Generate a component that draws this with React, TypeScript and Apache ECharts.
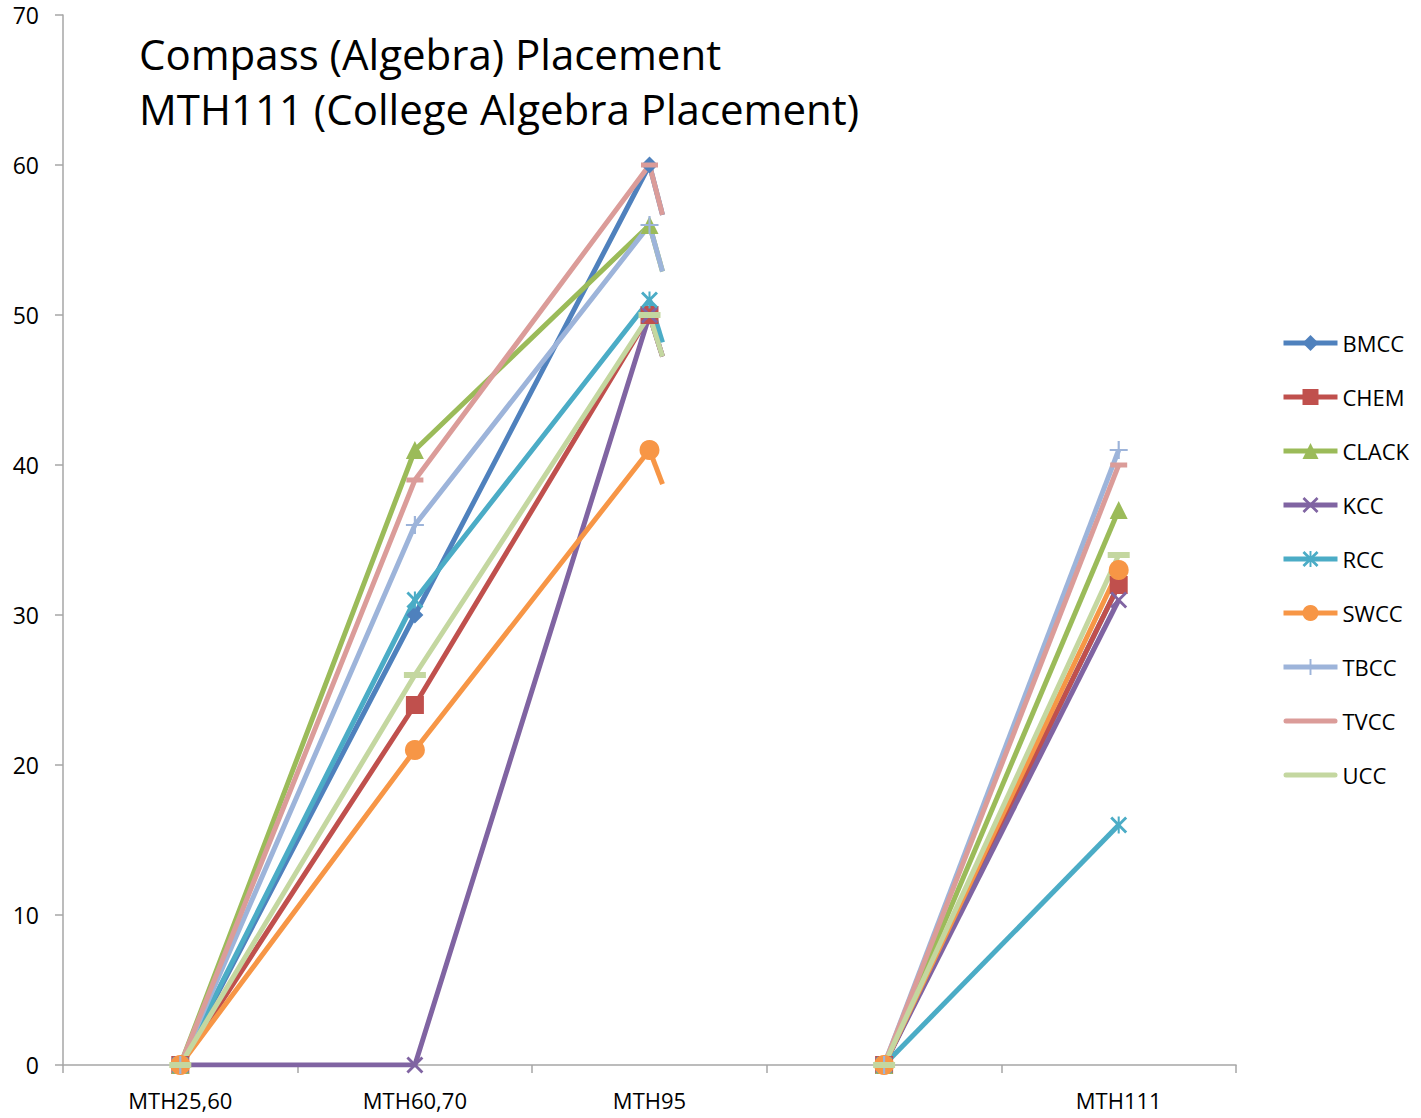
import React, { useEffect, useRef } from "react";
import * as echarts from "echarts";

const categories = ["MTH25,60", "MTH60,70", "MTH95", "", "MTH111"];
const colleges = ["BMCC", "CHEM", "CLACK", "KCC", "RCC", "SWCC", "TBCC", "TVCC", "UCC"];
// values at MTH25,60 / MTH60,70 / MTH95
const bmccFirst = [0, 30, 60];
const chemFirst = [0, 24, 50];
const clackFirst = [0, 41, 56];
const kccFirst = [0, 0, 50];
const rccFirst = [0, 31, 51];
const swccFirst = [0, 21, 41];
const tbccFirst = [0, 36, 56];
const tvccFirst = [0, 39, 60];
const uccFirst = [0, 26, 50];
// values at blank category / MTH111
const bmccSecond = [0, 32];
const chemSecond = [0, 32];
const clackSecond = [0, 37];
const kccSecond = [0, 31];
const rccSecond = [0, 16];
const swccSecond = [0, 33];
const tbccSecond = [0, 41];
const tvccSecond = [0, 40];
const uccSecond = [0, 34];
const yMin = 0;
const yMax = 70;
const yInterval = 10;

const firstSegments = [bmccFirst, chemFirst, clackFirst, kccFirst, rccFirst, swccFirst, tbccFirst, tvccFirst, uccFirst];
const secondSegments = [bmccSecond, chemSecond, clackSecond, kccSecond, rccSecond, swccSecond, tbccSecond, tvccSecond, uccSecond];

const colors = ["#4F81BD", "#C0504D", "#9BBB59", "#8064A2", "#4BACC6", "#F79646", "#9DB4DA", "#DB9C99", "#C4D7A0"];

const X_PATH = "path://M0,1.2 L1.2,0 L5,3.8 L8.8,0 L10,1.2 L6.2,5 L10,8.8 L8.8,10 L5,6.2 L1.2,10 L0,8.8 L3.8,5 Z";
const PLUS_PATH = "path://M4.4,0 H5.6 V4.4 H10 V5.6 H5.6 V10 H4.4 V5.6 H0 V4.4 H4.4 Z";
const STAR_PATH =
  "path://M0,1.2 L1.2,0 L5,3.8 L8.8,0 L10,1.2 L6.2,5 L10,8.8 L8.8,10 L5,6.2 L1.2,10 L0,8.8 L3.8,5 Z M4.4,0 H5.6 V10 H4.4 Z";
const DASH_PATH = "path://M0,0 H10 V10 H0 Z";
const LEGEND_LINE = "path://M2.5,0 H51.5 A2.5,2.5 0 0 1 51.5,5 H2.5 A2.5,2.5 0 0 1 2.5,0 Z";

const symbols: any[] = [
  { symbol: "diamond", size: 17 },
  { symbol: "rect", size: 18 },
  { symbol: "triangle", size: 18 },
  { symbol: X_PATH, size: 17 },
  { symbol: STAR_PATH, size: 17 },
  { symbol: "circle", size: 20 },
  { symbol: PLUS_PATH, size: 18 },
  { symbol: DASH_PATH, size: [17, 5] },
  { symbol: DASH_PATH, size: [22, 6] },
];
const lineOnlyLegend = ["TVCC", "UCC"];

const FONT = "Open Sans";

export default function App() {
  const ref = useRef<HTMLDivElement>(null);
  useEffect(() => {
    if (!ref.current) return;
    const chart = echarts.init(ref.current, null, { renderer: "svg" });
    const series: any[] = [];
    colleges.forEach((name, i) => {
      const common = {
        type: "line",
        name,
        symbol: symbols[i].symbol,
        symbolSize: symbols[i].size,
        showAllSymbol: true,
        color: colors[i],
        lineStyle: { width: 5, color: colors[i] },
        itemStyle: { color: colors[i] },
        emphasis: { disabled: true },
        connectNulls: false,
      };
      series.push({ ...common, data: [...firstSegments[i], null, null] });
      series.push({ ...common, data: [null, null, null, ...secondSegments[i]] });
    });
    series.push({
      type: "custom",
      name: "stubs",
      z: 1,
      encode: { x: 0, y: 1 },
      data: colleges.map((_, i) => [2, firstSegments[i][2], i]),
      renderItem: (params: any, api: any) => {
        const idx = api.value(2);
        const start = api.coord([api.value(0), api.value(1)]);
        const end = api.coord([3, 0]);
        const dx = 13;
        const t = dx / (end[0] - start[0]);
        return {
          type: "line",
          shape: { x1: start[0], y1: start[1], x2: start[0] + dx, y2: start[1] + (end[1] - start[1]) * t },
          style: { stroke: colors[idx], lineWidth: 5 },
        };
      },
    });

    chart.setOption({
      animation: false,
      textStyle: { fontFamily: FONT },
      title: {
        text: "Compass (Algebra) Placement\nMTH111 (College Algebra Placement)",
        left: 134,
        top: 21,
        textStyle: { fontFamily: FONT, fontSize: 42, fontWeight: "normal", color: "#000", lineHeight: 55 },
      },
      legend: {
        data: colleges.map((name) =>
          lineOnlyLegend.includes(name) ? { name, icon: LEGEND_LINE } : name
        ),
        orient: "vertical",
        left: 1276,
        top: 327,
        itemWidth: 54,
        itemHeight: 20,
        itemGap: 32,
        symbolKeepAspect: true,
        lineStyle: { width: 5 },
        textStyle: { fontFamily: FONT, fontSize: 22, color: "#000" },
      },
      grid: { left: 63, top: 15, right: 185, bottom: 53, containLabel: false },
      xAxis: {
        type: "category",
        data: categories,
        boundaryGap: true,
        axisLine: { lineStyle: { color: "#A6A6A6", width: 1.5 } },
        axisTick: { show: true, length: 8, alignWithLabel: false, lineStyle: { color: "#A6A6A6", width: 1.5 } },
        axisLabel: { fontFamily: FONT, fontSize: 22, color: "#000", margin: 24, interval: 0 },
        splitLine: { show: false },
      },
      yAxis: {
        type: "value",
        min: yMin,
        max: yMax,
        interval: yInterval,
        axisLine: { show: true, lineStyle: { color: "#A6A6A6", width: 1.5 } },
        axisTick: { show: true, length: 8, lineStyle: { color: "#A6A6A6", width: 1.5 } },
        axisLabel: { fontFamily: FONT, fontSize: 23, color: "#000", margin: 24 },
        splitLine: { show: false },
      },
      series,
    });
    return () => chart.dispose();
  }, []);
  return <div ref={ref} style={{ position: "absolute", left: 0, top: 0, width: 1421, height: 1118 }} />;
}
